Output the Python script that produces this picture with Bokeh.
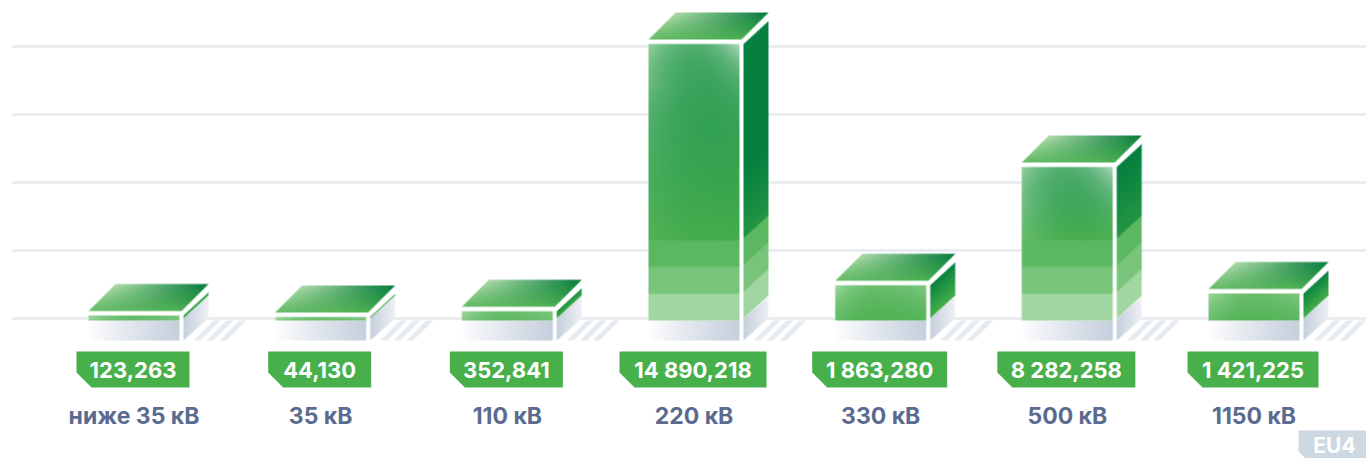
import numpy as np
from bokeh.core.properties import value
from bokeh.embed import file_html
from bokeh.models import Range1d
from bokeh.plotting import figure
from bokeh.resources import INLINE

# ---------- data ----------
categories = ["ниже 35 кВ", "35 кВ", "110 кВ", "220 кВ", "330 кВ", "500 кВ", "1150 кВ"]
values_mln = [0.123263, 0.044130, 0.352841, 14.890218, 1.863280, 8.282258, 1.421225]
value_labels = ["123,263", "44,130", "352,841", "14 890,218", "1 863,280", "8 282,258", "1 421,225"]
grid_levels = [0.13, 3.79, 7.45, 11.10, 14.76]
source_tag = "EU4"

# ---------- layout ----------
W, H = 1366, 458
K = 18.6          # pixels per million
Y0 = 320.5        # pixel row of value 0
STEP = 186.67
LEFT0 = 88.0
FW = 91.0         # front width
GAP = 4.0
SW = 25.0         # side width
DX, DY = 27.0, 27.0
BADGE_W = [113, 103, 113, 147, 135, 138, 131]
BASE = 320.0


def vy(px):
    return (Y0 - px) / K


p = figure(width=W, height=H, x_range=Range1d(0, W), y_range=Range1d(vy(H), vy(0)),
           output_backend="svg", toolbar_location=None, min_border=0,
           outline_line_color=None, background_fill_color="white", border_fill_color="white")
p.axis.visible = False
p.grid.visible = False


def hexc(s):
    return np.array([int(s[i:i + 2], 16) for i in (1, 3, 5)], float)


def mix(a, b, t):
    t = np.asarray(t)[..., None]
    return a * (1 - t) + b * t


def paint(x0, y0, x1, y1, colour, mask=None, ss=4):
    """Rasterise colour(x, y) on the pixel rectangle, antialiased by supersampling."""
    ix0, iy0 = int(np.floor(x0)), int(np.floor(y0))
    ix1, iy1 = int(np.ceil(x1)), int(np.ceil(y1))
    w, h = ix1 - ix0, iy1 - iy0
    xs = ix0 + (np.arange(w * ss) + 0.5) / ss
    ys = iy0 + (np.arange(h * ss) + 0.5) / ss
    X, Y = np.meshgrid(xs, ys)
    rgb = np.nan_to_num(colour(X, Y))
    a = (X >= x0) & (X <= x1) & (Y >= y0) & (Y <= y1)
    if mask is not None:
        a = a & mask(X, Y)
    a = a.astype(float)
    prem = (rgb * a[..., None]).reshape(h, ss, w, ss, 3).sum(axis=(1, 3))
    cov = a.reshape(h, ss, w, ss).sum(axis=(1, 3))
    out = np.zeros((h, w, 4), dtype=np.uint8)
    safe = np.maximum(cov, 1e-6)[..., None]
    out[..., :3] = np.clip(prem / safe, 0, 255).astype(np.uint8)
    out[..., 3] = np.clip(cov / (ss * ss) * 255, 0, 255).astype(np.uint8)
    img = out[::-1].copy().view(np.uint32).reshape(h, w)
    p.image_rgba(image=[img], x=ix0, y=vy(iy1), dw=w, dh=h / K)


GREEN = hexc("#46ae4b")
UPPER = hexc("#2a9c50")
WHITE = hexc("#ffffff")
MINT = hexc("#d4f0d0")
BANDS = [hexc("#a2d6a0"), hexc("#78c47a"), hexc("#5cb860")]
BAND_H = 26.7
SHADOW = hexc("#c6cfdd")
DARK = hexc("#05803f")
HATCH = "#e6ebf0"
TL, TR, BL, BR = hexc("#b0dcac"), hexc("#047a3c"), hexc("#66bb68"), hexc("#4fb254")

# grid
for g in grid_levels:
    p.segment(x0=12, y0=g, x1=W, y1=g, line_color="#e9edf1", line_width=3)

for i, v in enumerate(values_mln):
    L = LEFT0 + STEP * i
    lift = 3.2 if v < 1 else (1.0 if v < 5 else 0.0)
    T = Y0 - K * v - lift
    FR = L + FW
    SL = FR + GAP
    SR = SL + SW
    bh = BASE - T

    # white silhouette hides the grid behind the block
    p.patch(x=[L, L + DX, SR, SR, SL, L],
            y=[vy(T - 4.5), vy(T - 4.5 - DY), vy(T - 4.5 - DY), vy(318), vy(340), vy(340)],
            fill_color="white", line_color="white", line_width=0)

    # hatched floor
    for k in range(3):
        b = L + 105 + 13 * k
        p.patch(x=[b, b + 7, b + 27, b + 20], y=[vy(340), vy(340), vy(320), vy(320)],
                fill_color=HATCH, line_color=None)

    # floor shadow: front
    paint(L, BASE, FR, 340,
          lambda X, Y, L=L: mix(WHITE, SHADOW, np.clip((X - L) / FW, 0, 1) ** 0.9))

    # floor shadow: side
    paint(SL, 296, SR, 340,
          lambda X, Y, SL=SL: mix(SHADOW, hexc("#eef1f5"), np.clip((X - SL) / SW, 0, 1)),
          mask=lambda X, Y, SL=SL: (Y >= 318 - (X - SL) * 22 / SW) & (Y <= 340 - (X - SL) * 22 / SW))

    # front face
    def front(X, Y, L=L, T=T, bh=bh):
        u = np.clip((X - L) / FW, 0, 1)
        d = np.maximum(Y - T, 0)
        t = np.clip(d / (bh - 80), 0, 1) ** 2 if bh > 100 else np.ones_like(d)
        c = mix(UPPER, GREEN, t)
        side_weight = np.where(u > 0.5, 0.42 if bh > 100 else 0.1, 0.42)
        glow = np.exp(-d / 30) * (0.22 + side_weight * np.abs(2 * u - 1) ** 2)
        if bh > 100:
            glow = glow + 0.28 * (1 - u) ** 3 * np.clip(d / 40, 0, 1) * np.exp(-d / 160)
        tint = mix(MINT, WHITE, u)
        c = mix(c, tint, np.clip(glow, 0, 1)) if False else c * (1 - np.clip(glow, 0, 1))[..., None] + tint * np.clip(glow, 0, 1)[..., None]
        if bh > 100:
            for n, bc in enumerate(BANDS):
                m = (Y >= BASE - BAND_H * (n + 1)) & (Y < BASE - BAND_H * n)
                c[m] = bc
        return c

    paint(L, T, FR, BASE, front)

    # side face
    def side(X, Y, bh=bh, SL=SL):
        rise = (X - SL) * 23 / SW
        db = 318 - rise - Y
        c = mix(GREEN, DARK, np.clip(db / min(150.0, max(bh, 4.0)), 0, 1))
        if bh > 100:
            for n, bc in enumerate(BANDS):
                m = (db >= BAND_H * n) & (db < BAND_H * (n + 1))
                c[m] = bc
        return c

    paint(SL, min(T, 318) - 23, SR, 318,
          side,
          mask=lambda X, Y, T=T, SL=SL: (Y >= min(T, 317.2) - (X - SL) * 23 / SW) & (Y <= 318 - (X - SL) * 23 / SW))

    # top face
    Ty = T - 4.5

    def top(X, Y, L=L, Ty=Ty):
        vv = np.clip((Ty - Y) / DY, 0, 1)
        u = np.clip((X - L - DX * vv) / (FW + 2), 0, 1)
        c0 = mix(BL, BR, u)
        c1 = mix(TL, TR, u)
        return mix(c0, c1, vv)

    paint(L, Ty - DY, SR, Ty, top,
          mask=lambda X, Y, L=L, Ty=Ty: (X >= L + (Ty - Y)) & (X <= L + FW + 2 + (Ty - Y)))

    # value badge
    cx = 132.5 + STEP * i
    bw = BADGE_W[i]
    bx0, bx1 = cx - bw / 2, cx + bw / 2
    p.patch(x=[bx0, bx1, bx1, bx0 + 15, bx0], y=[vy(351), vy(351), vy(387), vy(387), vy(372)],
            fill_color="#48b04b", line_color=None)
    p.text(x=[cx], y=[vy(369)], text=[value_labels[i]], text_align="center", text_baseline="middle",
           text_color="white", text_font=value("Inter"), text_font_style="bold", text_font_size="22px")
    p.text(x=[cx + 1], y=[vy(415)], text=[categories[i]], text_align="center", text_baseline="middle",
           text_color="#5b6b90", text_font=value("Inter"), text_font_style="bold", text_font_size="23px")

# source tag
p.patch(x=[1298, W, W, 1305, 1298], y=[vy(430), vy(430), vy(458), vy(458), vy(451)],
        fill_color="#cdd8e3", line_color=None)
p.text(x=[1334], y=[vy(444.5)], text=[source_tag], text_align="center", text_baseline="middle",
       text_color="white", text_font=value("Inter"), text_font_style="bold", text_font_size="21px")

html = file_html(p, INLINE)
html = html.replace("<head>", "<head><style>html,body{margin:0;padding:0;overflow:hidden}</style>", 1)
open("out.html", "w").write(html)
